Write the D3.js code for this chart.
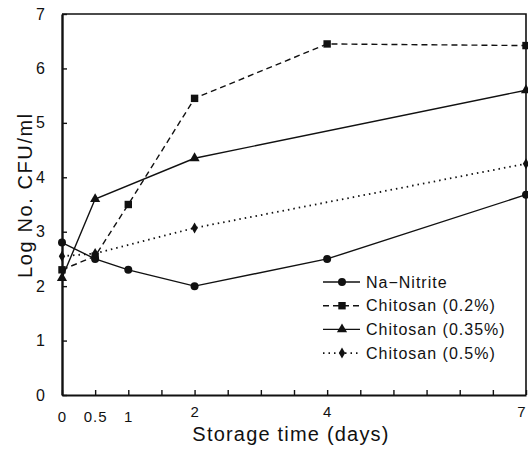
<!DOCTYPE html>
<html>
<head>
<meta charset="utf-8">
<script src="https://cdn.jsdelivr.net/npm/d3@7"></script>
<style>
  body { margin: 0; background: #fff; }
  text { font-family: "Liberation Sans", Arial, sans-serif; fill: #111; }
</style>
</head>
<body>
<div id="chart"></div>
<script>
// storage time (days) and log counts
const nitriteX = [0, 0.5, 1, 2, 4, 7];
const nitriteY = [2.8, 2.5, 2.3, 2.0, 2.5, 3.68];
const chit02X = [0, 0.5, 1, 2, 4, 7];
const chit02Y = [2.3, 2.55, 3.5, 5.45, 6.45, 6.42];
const chit035X = [0, 0.5, 2, 7];
const chit035Y = [2.15, 3.6, 4.35, 5.6];
const chit05X = [0, 0.5, 2, 7];
const chit05Y = [2.55, 2.6, 3.07, 4.25];

const seriesNames = ["Na\u2212Nitrite", "Chitosan (0.2%)", "Chitosan (0.35%)", "Chitosan (0.5%)"];
const xTickLabels = [0, 0.5, 1, 2, 4, 7];
const yTickLabels = [0, 1, 2, 3, 4, 5, 6, 7];

const series = [
    {name: seriesNames[0], xs: nitriteX, ys: nitriteY, symbol: d3.symbolCircle, size: 50, dash: null},
    {name: seriesNames[1], xs: chit02X, ys: chit02Y, symbol: d3.symbolSquare, size: 55, dash: "6,4"},
    {name: seriesNames[2], xs: chit035X, ys: chit035Y, symbol: d3.symbolTriangle, size: 45, dash: null},
    {name: seriesNames[3], xs: chit05X, ys: chit05Y, symbol: d3.symbolDiamond, size: 35, dash: "1.5,4"}
];

const W = 528, H = 449;
const margin = {top: 14, right: 2, bottom: 54, left: 62};

const svg = d3.select("#chart").append("svg")
    .attr("width", W)
    .attr("height", H);

const x = d3.scaleLinear().domain([0, 7]).range([margin.left, W - margin.right]);
const y = d3.scaleLinear().domain([0, 7]).range([H - margin.bottom, margin.top]);

// frame (top and right)
svg.append("path")
    .attr("d", `M${x(0)},${y(7)}H${x(7)}V${y(0)}`)
    .attr("fill", "none")
    .attr("stroke", "#111")
    .attr("stroke-width", 1.6);

// x axis: inward ticks every 0.5, labels only at some
const xAxis = svg.append("g")
    .attr("transform", `translate(0,${y(0)})`)
    .call(d3.axisBottom(x).tickValues(d3.range(0, 7.01, 0.5)).tickSizeInner(-5).tickSizeOuter(0)
        .tickFormat(d => xTickLabels.includes(d) ? d : ""));
xAxis.select(".domain").attr("stroke", "#111").attr("stroke-width", 2.2);
xAxis.selectAll(".tick line").attr("stroke", "#111").attr("stroke-width", 1.4);
xAxis.selectAll(".tick text")
    .attr("y", 16)
    .attr("dy", "0.71em")
    .style("font-size", "15px")
    .style("letter-spacing", d => d === 7 ? "0px" : "1px")
    .attr("text-anchor", d => d === 7 ? "end" : "middle")
    .attr("dx", d => d === 7 ? -1 : 0)
    .attr("transform", d => d >= 2 ? "translate(0,-5)" : null);

const yAxis = svg.append("g")
    .attr("transform", `translate(${x(0)},0)`)
    .call(d3.axisLeft(y).tickValues(yTickLabels).tickSizeInner(-5).tickSizeOuter(0).tickFormat(d3.format("d")));
yAxis.select(".domain").attr("stroke", "#111").attr("stroke-width", 2.4);
yAxis.selectAll(".tick line").attr("stroke", "#111").attr("stroke-width", 1.4);
yAxis.selectAll(".tick text")
    .attr("x", -17)
    .style("font-size", "16px");

// axis titles
svg.append("text")
    .attr("x", 291)
    .attr("y", 441)
    .attr("text-anchor", "middle")
    .style("font-size", "20px")
    .style("letter-spacing", "1.2px")
    .text("Storage time (days)");

svg.append("text")
    .attr("transform", `translate(32,195) rotate(-90)`)
    .attr("text-anchor", "middle")
    .style("font-size", "20px")
    .style("letter-spacing", "1.6px")
    .text("Log No. CFU/ml");

const line = d3.line().x(d => x(d[0])).y(d => y(d[1]));

series.forEach(s => {
    const pts = s.xs.map((v, i) => [v, s.ys[i]]);
    svg.append("path")
        .datum(pts)
        .attr("d", line)
        .attr("fill", "none")
        .attr("stroke", "#111")
        .attr("stroke-width", s.dash && s.dash.startsWith("1.5") ? 1.8 : 1.4)
        .attr("stroke-dasharray", s.dash);
    svg.selectAll(null)
        .data(pts)
        .join("path")
        .attr("transform", d => `translate(${x(d[0])},${y(d[1])})`)
        .attr("d", d3.symbol().type(s.symbol).size(s.size))
        .attr("fill", "#111");
});

// legend
const legend = svg.append("g").attr("transform", "translate(323,282)");
series.forEach((s, i) => {
    const g = legend.append("g").attr("transform", `translate(0,${i * 23.7})`);
    g.append("line")
        .attr("x1", 0).attr("x2", 37)
        .attr("stroke", "#111")
        .attr("stroke-width", s.dash && s.dash.startsWith("1.5") ? 1.8 : 1.4)
        .attr("stroke-dasharray", s.dash);
    g.append("path")
        .attr("transform", "translate(19,0)")
        .attr("d", d3.symbol().type(s.symbol).size(s.size))
        .attr("fill", "#111");
    g.append("text")
        .attr("x", 43)
        .attr("dy", "0.35em")
        .style("font-size", "16px")
        .style("letter-spacing", "1px")
        .text(s.name);
});
</script>
</body>
</html>
